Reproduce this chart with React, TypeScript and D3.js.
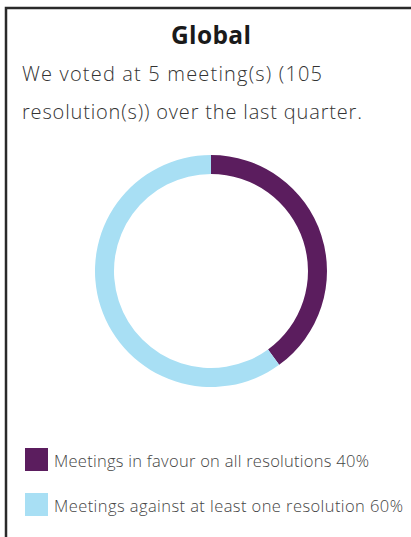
import React from "react";
import * as d3 from "d3";

const title = "Global";
const introLines = ["We voted at 5 meeting(s) (105", "resolution(s)) over the last quarter."];
const introWidths = [300, 340];
const categories = ["Meetings in favour on all resolutions", "Meetings against at least one resolution"];
const values = [40, 60];
const legendWidths = [315, 349];
const colors = ["#5b1d5e", "#a8dff4"];

export default function App() {
  const W = 411, H = 537;
  const cx = 211, cy = 271, outerR = 116, innerR = 97;
  const pie = d3.pie<number>().sort(null).value((d) => d)(values);
  const arc = d3.arc<d3.PieArcDatum<number>>().innerRadius(innerR).outerRadius(outerR);
  const font = "'Open Sans', sans-serif";
  return (
    <svg width={W} height={H} style={{ position: "absolute", left: 0, top: 0, display: "block" }}>
      <rect x={0} y={0} width={W} height={H} fill="#fff" />
      <path d={`M6,${H} L6,8 L${W},8`} fill="none" stroke="#2a2a2a" strokeWidth={2.5} />
      <text x={211} y={44} textAnchor="middle" fontFamily={font} fontWeight={700} fontSize={24.5} fill="#1a1a1a" textLength={80} lengthAdjust="spacing">{title}</text>
      {introLines.map((l, i) => (
        <text key={i} x={22} y={81 + i * 38} fontFamily={font} fontWeight={300} fontSize={20} fill="#333" textLength={introWidths[i]} lengthAdjust="spacing">{l}</text>
      ))}
      <g transform={`translate(${cx},${cy})`}>
        {pie.map((p, i) => (
          <path key={i} d={arc(p) || ""} fill={colors[i]} />
        ))}
      </g>
      {categories.map((c, i) => (
        <g key={i} transform={`translate(25,${448 + i * 45})`}>
          <rect x={0} y={0} width={23} height={23} fill={colors[i]} />
          <text x={29} y={19} fontFamily={font} fontWeight={300} fontSize={16.5} fill="#444" textLength={legendWidths[i]} lengthAdjust="spacing">{`${c} ${values[i]}%`}</text>
        </g>
      ))}
    </svg>
  );
}
